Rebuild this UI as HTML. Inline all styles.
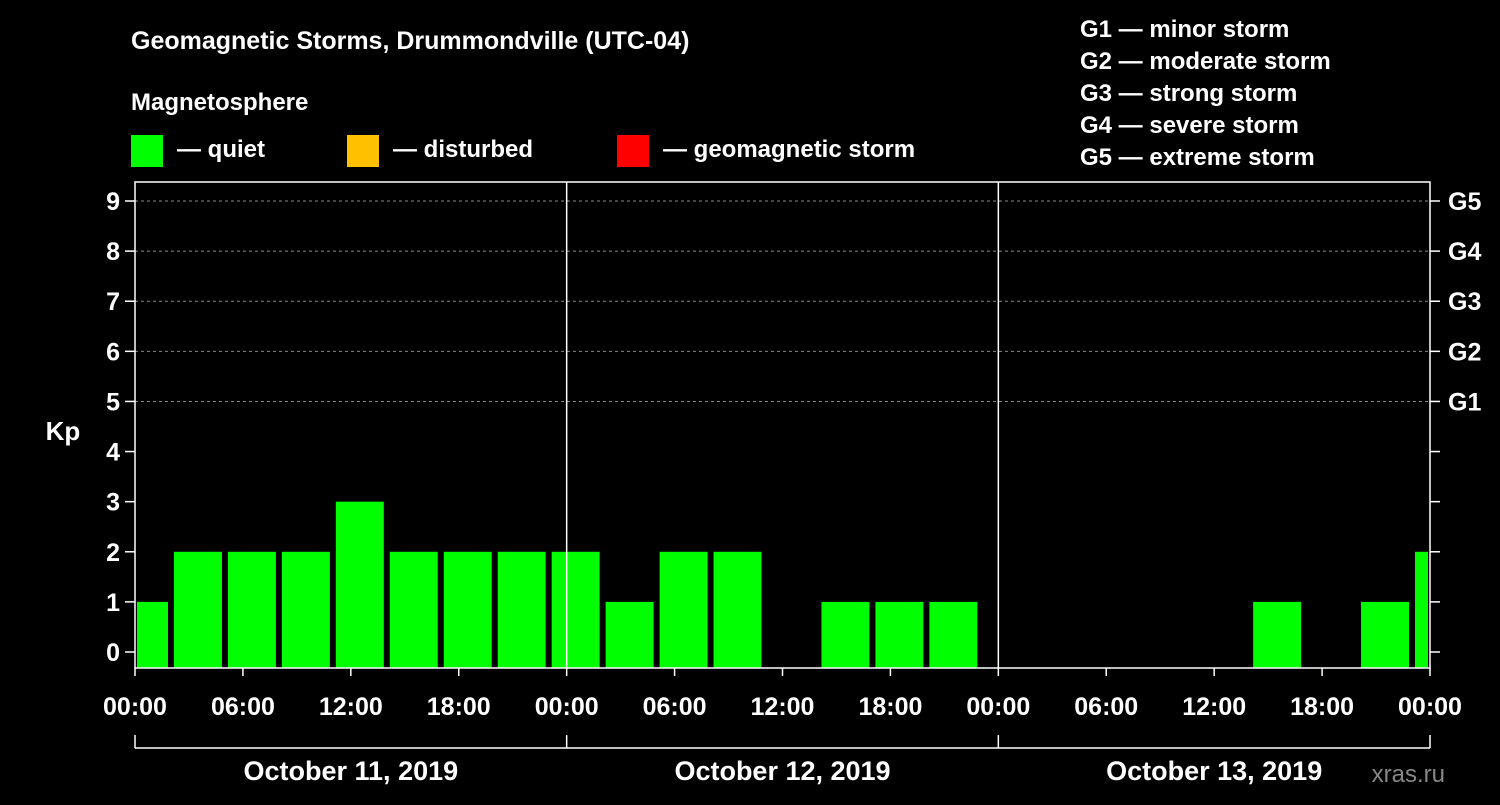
<!DOCTYPE html>
<html><head><meta charset="utf-8"><style>
body{margin:0;background:#000;width:1500px;height:800px;overflow:hidden}
svg text{font-family:"Liberation Sans",Arial,sans-serif;font-weight:bold;fill:#fff}
</style></head><body>
<svg id="c" width="1500" height="800">
<rect width="1500" height="800" fill="#000"/>
<text x="131" y="49" font-size="25">Geomagnetic Storms, Drummondville (UTC-04)</text>
<text x="131" y="110" font-size="24">Magnetosphere</text>
<g><rect x="131" y="135" width="32" height="32" fill="#00ff00"/><text x="177" y="157" font-size="24">— quiet</text></g>
<g><rect x="347" y="135" width="32" height="32" fill="#ffc000"/><text x="393" y="157" font-size="24">— disturbed</text></g>
<g><rect x="617" y="135" width="32" height="32" fill="#ff0000"/><text x="663" y="157" font-size="24">— geomagnetic storm</text></g>
<g font-size="24">
<text x="1080" y="37">G1 — minor storm</text><text x="1080" y="69">G2 — moderate storm</text><text x="1080" y="101">G3 — strong storm</text><text x="1080" y="133">G4 — severe storm</text><text x="1080" y="165">G5 — extreme storm</text></g>
<text x="63" y="440" font-size="26" text-anchor="middle">Kp</text>
<text x="1445" y="782" font-size="24" fill="#888" style="fill:#888;font-weight:normal" text-anchor="end">xras.ru</text>
<g id="plot"></g>
</svg>
<script>
const kpValues=[1,2,2,2,3,2,2,2,2,1,2,2,0,1,1,1,0,0,0,0,0,1,0,1,2];
const yTicks=[0,1,2,3,4,5,6,7,8,9];
const gLabels=["G1","G2","G3","G4","G5"];
const timeLabels=["00:00","06:00","12:00","18:00","00:00","06:00","12:00","18:00","00:00","06:00","12:00","18:00","00:00"];
const dateLabels=["October 11, 2019","October 12, 2019","October 13, 2019"];
const firstIntervalHour=-1, totalHours=72;
const X0=135,X1=1430,TOP=182,BOT=668;
const xs=h=>X0+(X1-X0)*h/totalHours;
const ys=v=>652-v*(652-201)/9;
const g=document.getElementById('plot');
const NS='http://www.w3.org/2000/svg';
function mk(t,a,p){const e=document.createElementNS(NS,t);for(const k in a)e.setAttribute(k,a[k]);(p||g).appendChild(e);return e;}
yTicks.forEach(v=>{
  if(v>=5){const l=mk('line',{x1:X0,x2:X1,y1:ys(v),y2:ys(v),stroke:'#888','stroke-dasharray':'3,3','stroke-width':1});
  
  }
  mk('line',{x1:X0-10,x2:X0,y1:ys(v),y2:ys(v),stroke:'#fff','stroke-width':1.5});
  mk('line',{x1:X1,x2:X1+10,y1:ys(v),y2:ys(v),stroke:'#fff','stroke-width':1.5});
  const t=mk('text',{x:X0-15,y:ys(v)+9,'font-size':25,'text-anchor':'end'});t.textContent=v;
  
  
});
gLabels.forEach((s,i)=>{const t=mk('text',{x:X1+18,y:ys(5+i)+9,'font-size':25});t.textContent=s;
  
  });
kpValues.forEach((v,i)=>{
  if(v<=0)return;
  const h0=Math.max(0,firstIntervalHour+3*i), h1=Math.min(totalHours,firstIntervalHour+3*i+3);
  const x=xs(h0)+(h0===0?2:3), w=xs(h1)-x-(h1===totalHours?2:3);
  const r=mk('rect',{x:x,y:ys(v),width:w,height:BOT-ys(v),fill:v>=5?'#ff0000':v>=4?'#ffc000':'#00ff00'});
  
  
});
mk('rect',{x:X0,y:TOP,width:X1-X0,height:BOT-TOP,fill:'none',stroke:'#fff','stroke-width':1.5});
[24,48].forEach(h=>mk('line',{x1:xs(h),x2:xs(h),y1:TOP,y2:BOT,stroke:'#fff','stroke-width':1.5}));
timeLabels.forEach((s,i)=>{const h=i*6;
  mk('line',{x1:xs(h),x2:xs(h),y1:BOT,y2:BOT+8,stroke:'#fff','stroke-width':1.5});
  const t=mk('text',{x:xs(h),y:715,'font-size':25,'text-anchor':'middle'});t.textContent=s;
  
  });
mk('line',{x1:X0,x2:X1,y1:748,y2:748,stroke:'#fff','stroke-width':1.5});
[0,24,48,72].forEach(h=>mk('line',{x1:xs(h),x2:xs(h),y1:735,y2:748,stroke:'#fff','stroke-width':1.5}));
dateLabels.forEach((s,i)=>{const t=mk('text',{x:xs(i*24+12),y:780,'font-size':27,'text-anchor':'middle'});t.textContent=s;
  
  });
</script>
</body></html>
